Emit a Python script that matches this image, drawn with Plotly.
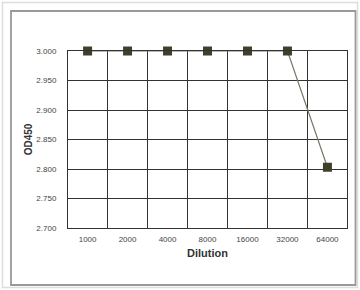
import plotly.graph_objects as go

dilutions = ["1000", "2000", "4000", "8000", "16000", "32000", "64000"]
od450 = [3.000, 3.000, 3.000, 3.000, 3.000, 3.000, 2.803]
y_ticks = [2.700, 2.750, 2.800, 2.850, 2.900, 2.950, 3.000]

W, H = 360, 290
L, R, T, B = 68, 13, 51, 62
pw, ph = W - L - R, H - T - B

def px(x):
    return (x - L) / pw

def py(y):
    return (H - B - y) / ph

fig = go.Figure()
fig.add_trace(go.Scatter(
    x=dilutions, y=od450, mode="lines+markers",
    line=dict(color="#77776a", width=1.2),
    marker=dict(symbol="square", size=9, color="#3f3f2c",
                line=dict(width=0)),
    cliponaxis=False, showlegend=False,
))

fig.update_layout(
    width=W, height=H,
    margin=dict(l=L, r=R, t=T, b=B),
    paper_bgcolor="white", plot_bgcolor="white",
    font=dict(family="Liberation Sans, Arial, sans-serif", size=8, color="#444"),
    xaxis=dict(
        type="category", tickson="boundaries",
        showgrid=True, gridcolor="#333", gridwidth=1,
        showline=True, linecolor="#333", linewidth=1, mirror=True,
        ticks="", ticklen=0, ticklabelstandoff=3,
        title=dict(text="<b>Dilution</b>", font=dict(size=11, color="#333",
                   family="Liberation Sans, Arial, sans-serif"), standoff=6),
        tickfont=dict(size=8, color="#444"),
    ),
    yaxis=dict(
        range=[2.7, 3.0], tickvals=y_ticks,
        ticktext=[f"{v:.3f}" for v in y_ticks],
        showgrid=True, gridcolor="#333", gridwidth=1,
        showline=True, linecolor="#333", linewidth=1, mirror=True,
        ticks="", zeroline=False, ticklabelstandoff=9,
        title=dict(text="<b>OD450</b>", font=dict(size=10, color="#333",
                   family="Liberation Sans, Arial, sans-serif"), standoff=1),
        tickfont=dict(size=8, color="#444"),
    ),
    shapes=[
        dict(type="rect", xref="paper", yref="paper",
             x0=px(2.5), x1=px(357.5), y0=py(287.5), y1=py(2.5),
             line=dict(color="#dddddd", width=1.5), layer="below"),
        dict(type="rect", xref="paper", yref="paper",
             x0=px(11), x1=px(355.5), y0=py(285), y1=py(11),
             line=dict(color="#999999", width=1.8), layer="below"),
    ],
)

fig.write_html("out.html", config={"displayModeBar": False},
               post_script="document.body.style.margin='0px';document.body.style.overflow='hidden';")
